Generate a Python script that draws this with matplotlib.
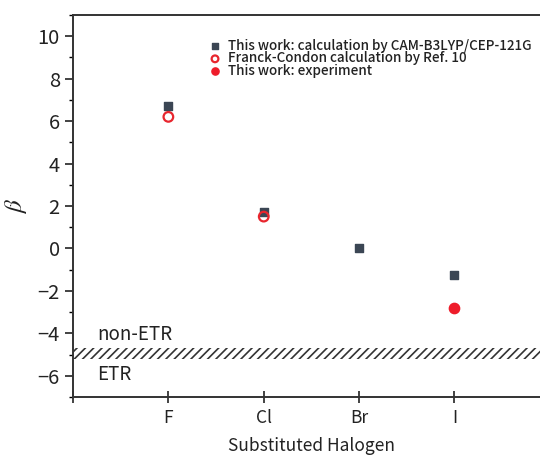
import matplotlib
matplotlib.use("Agg")
import matplotlib.pyplot as plt
from matplotlib.ticker import MultipleLocator, FixedLocator, NullLocator
import matplotlib.patches as mpatches

plt.rcParams['font.family'] = ['Noto Sans CJK JP', 'DejaVu Sans']
plt.rcParams['mathtext.fontset'] = 'stix'
plt.rcParams['hatch.linewidth'] = 1.2

halogens = ["F", "Cl", "Br", "I"]
x_pos = [1, 2, 3, 4]
beta_calc = [6.7, 1.7, 0.0, -1.25]
beta_fc = [6.2, 1.5]
beta_exp = [-2.8]
exp_pos = [4]
etr_band = (-5.2, -4.7)

fig = plt.figure(figsize=(5.40, 4.57), dpi=100)
ax = fig.add_axes([0.1352, 0.1313, 0.883, 0.8359])

# threshold band separating ETR and non-ETR regions
ax.add_patch(mpatches.Rectangle((0, etr_band[0]), 5, etr_band[1] - etr_band[0],
                                facecolor='white', edgecolor='#333333', hatch='////',
                                linewidth=0, zorder=1))

ax.scatter(x_pos, beta_calc, marker='s', s=36, color='#3b4654', zorder=3,
           label='This work: calculation by CAM-B3LYP/CEP-121G')
ax.scatter(x_pos[:len(beta_fc)], beta_fc, marker='o', s=48, facecolors='none',
           edgecolors='#e8262e', linewidths=1.6, zorder=4,
           label='Franck-Condon calculation by Ref. 10')
ax.scatter(exp_pos, beta_exp, marker='o', s=55, color='#ee1c2a', zorder=4,
           label='This work: experiment')

ax.text(0.25, -4.05, 'non-ETR', fontsize=13.5, va='center', ha='left', color='#222222')
ax.text(0.25, -5.95, 'ETR', fontsize=13.5, va='center', ha='left', color='#222222')

ax.set_xlim(0, 5)
ax.set_ylim(-7, 11)
ax.xaxis.set_major_locator(FixedLocator([0] + x_pos))
ax.set_xticklabels([''] + halogens)
ax.yaxis.set_major_locator(MultipleLocator(2))
ax.yaxis.set_minor_locator(MultipleLocator(1))
ax.xaxis.set_minor_locator(NullLocator())

ax.tick_params(axis='x', direction='inout', length=9, width=1.2, labelsize=12.5,
               pad=4, colors='#222222')
ax.tick_params(axis='y', which='major', direction='out', length=6, width=1.2,
               labelsize=14.5, colors='#222222')
ax.tick_params(axis='y', which='minor', direction='out', length=3, width=1.0)

for side in ['left', 'bottom', 'top', 'right']:
    ax.spines[side].set_linewidth(1.4)
    ax.spines[side].set_color('#333333')

ax.set_xlabel('Substituted Halogen', fontsize=12.5, color='#222222', labelpad=7)
ax.set_ylabel(r'$\beta$', fontsize=18, color='#222222', labelpad=6)

leg = ax.legend(loc='upper left', bbox_to_anchor=(0.271, 0.952), frameon=False,
                fontsize=9.7, handletextpad=0.45, labelspacing=-0.1,
                borderaxespad=0, handlelength=1.1, scatterpoints=1,
                markerscale=0.7)
for t in leg.get_texts():
    t.set_color('#222222')
    t.set_fontweight('medium')

fig.savefig('out.png', dpi=100)
